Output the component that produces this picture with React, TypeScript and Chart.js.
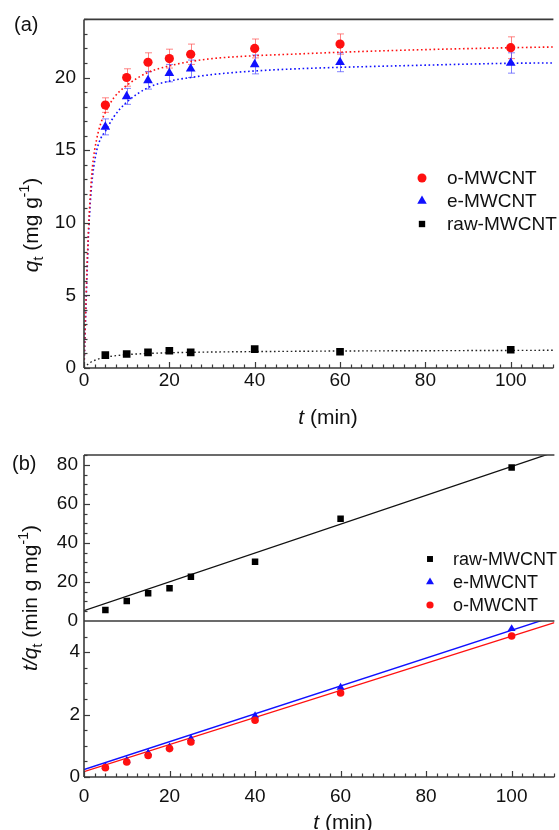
import React, { useEffect, useRef } from 'react';
import { Chart, registerables } from 'chart.js';
Chart.register(...registerables);

const FONT = '"Liberation Sans", Arial, Helvetica, sans-serif';

// ---- panel (a): adsorption kinetics ----
const timeMin = [5, 10, 15, 20, 25, 40, 60, 100];
const qO = [18.1, 20.0, 21.05, 21.3, 21.6, 22.0, 22.3, 22.05];
const qE = [16.6, 18.7, 19.8, 20.3, 20.6, 20.9, 21.05, 21.0];
const qRaw = [0.89, 0.96, 1.08, 1.19, 1.08, 1.3, 1.12, 1.26];
const errO = [0.5, 0.6, 0.65, 0.65, 0.7, 0.65, 0.7, 0.75];
const errE = [0.55, 0.55, 0.6, 0.6, 0.6, 0.65, 0.65, 0.7];

// fitted curves
const fitT = [0, 0.5, 1, 1.5, 2, 3, 4, 5, 7, 10, 15, 20, 25, 30, 40, 50, 60, 80, 100, 110];
const fitO = [0, 5.0, 9.2, 12.0, 13.9, 15.8, 16.9, 17.6, 18.6, 19.45, 20.35, 20.8, 21.1, 21.3, 21.5, 21.62, 21.74, 21.92, 22.05, 22.1];
const fitE = [0, 4.6, 8.8, 11.5, 13.2, 15.0, 15.85, 16.3, 17.3, 18.3, 19.3, 19.75, 20.0, 20.2, 20.45, 20.6, 20.7, 20.85, 20.98, 21.0];
const fitRaw = [0, 0.15, 0.28, 0.38, 0.46, 0.58, 0.67, 0.74, 0.83, 0.92, 1.0, 1.05, 1.08, 1.1, 1.13, 1.15, 1.17, 1.19, 1.21, 1.22];

// ---- panel (b): pseudo-second-order plot t/qt ----
const tqRaw = [5.6, 10.3, 14.2, 16.8, 22.7, 30.4, 52.3, 78.6];
const tqE = [0.34, 0.53, 0.77, 0.96, 1.23, 1.96, 2.87, 4.75];
const tqO = [0.3, 0.48, 0.69, 0.91, 1.12, 1.82, 2.69, 4.52];
const lineT = [0, 110];
const lineRaw = [5.3, 86.5];
const lineE = [0.24, 5.15];
const lineO = [0.17, 4.95];

const seriesLabels = ['o-MWCNT', 'e-MWCNT', 'raw-MWCNT'];

// tick labels
const xTickLabels = [0, 20, 40, 60, 80, 100];
const yTickLabelsA = [0, 5, 10, 15, 20];
const yTickLabelsTop = [0, 20, 40, 60, 80];
const yTickLabelsLow = [0, 2, 4];

const RED = '#ff1010';
const BLUE = '#1010ff';
const BLACK = '#000000';

const pts = (xs: number[], ys: number[]) => xs.map((x, i) => ({ x, y: ys[i] }));

type Seg = { t: string; it?: boolean; sub?: boolean; sup?: boolean };

function drawRich(ctx: CanvasRenderingContext2D, segs: Seg[], cx: number, cy: number, size: number, rotate: boolean) {
  ctx.save();
  ctx.translate(cx, cy);
  if (rotate) ctx.rotate(-Math.PI / 2);
  const fontOf = (s: Seg) => `${s.it ? 'italic ' : ''}${s.sub || s.sup ? Math.round(size * 0.68) : size}px ${FONT}`;
  let total = 0;
  for (const s of segs) {
    ctx.font = fontOf(s);
    total += ctx.measureText(s.t).width;
  }
  let x = -total / 2;
  ctx.textBaseline = 'alphabetic';
  ctx.textAlign = 'left';
  ctx.fillStyle = '#111';
  for (const s of segs) {
    ctx.font = fontOf(s);
    const dy = s.sub ? size * 0.28 : s.sup ? -size * 0.42 : 0;
    ctx.fillText(s.t, x, size * 0.36 + dy);
    x += ctx.measureText(s.t).width;
  }
  ctx.restore();
}

function marker(ctx: CanvasRenderingContext2D, style: string, x: number, y: number, r: number, color: string) {
  ctx.save();
  ctx.fillStyle = color;
  ctx.beginPath();
  if (style === 'circle') {
    ctx.arc(x, y, r, 0, Math.PI * 2);
  } else if (style === 'triangle') {
    ctx.moveTo(x, y - r);
    ctx.lineTo(x + r * 0.866, y + r * 0.5);
    ctx.lineTo(x - r * 0.866, y + r * 0.5);
    ctx.closePath();
  } else {
    const s = r * Math.SQRT1_2;
    ctx.rect(x - s, y - s, 2 * s, 2 * s);
  }
  ctx.fill();
  ctx.restore();
}

function line(ctx: CanvasRenderingContext2D, x1: number, y1: number, x2: number, y2: number) {
  ctx.beginPath();
  ctx.moveTo(x1, y1);
  ctx.lineTo(x2, y2);
  ctx.stroke();
}

const FRAME = '#3a3a3a';

function xTicks(ctx: CanvasRenderingContext2D, xs: any, bottom: number) {
  ctx.strokeStyle = FRAME;
  ctx.lineWidth = 1.2;
  for (let v = 0; v <= 110.001; v += 2.5) {
    const px = Math.round(xs.getPixelForValue(v)) + 0.5;
    const len = Math.abs(v % 20) < 1e-6 ? 6 : 3.5;
    line(ctx, px, bottom, px, bottom - len);
  }
}

function yTicks(ctx: CanvasRenderingContext2D, ys: any, left: number, min: number, max: number, minor: number, major: number) {
  ctx.strokeStyle = FRAME;
  ctx.lineWidth = 1.2;
  for (let v = min; v <= max + 1e-6; v += minor) {
    const py = Math.round(ys.getPixelForValue(v)) + 0.5;
    const r = v / major;
    const len = Math.abs(r - Math.round(r)) < 1e-6 ? 6 : 3.5;
    line(ctx, left, py, left + len, py);
  }
}

function legend(chart: any, items: { idx: number; style: string; color: string; r: number }[], mx: number, tx: number, y0: number, dy: number, size: number) {
  const ctx = chart.ctx;
  items.forEach((it, i) => {
    const y = y0 + i * dy;
    marker(ctx, it.style, mx, y, it.r, it.color);
    ctx.save();
    ctx.font = `${size}px ${FONT}`;
    ctx.fillStyle = '#111';
    ctx.textBaseline = 'middle';
    ctx.textAlign = 'left';
    ctx.fillText(chart.data.datasets[it.idx].label, tx, y + 1);
    ctx.restore();
  });
}

const useTicks = (values: number[]) => (scale: any) => {
  scale.ticks = values.map((v) => ({ value: v }));
};

const tickOpts = (padding: number) => ({ padding, autoSkip: false, maxRotation: 0, color: '#111', font: { size: 19, family: FONT } });

function makeA(canvas: HTMLCanvasElement) {
  const decor = {
    id: 'decorA',
    beforeDatasetsDraw(chart: any) {
      const ctx = chart.ctx;
      const xs = chart.scales.x;
      const ys = chart.scales.y;
      const ca = chart.chartArea;
      ctx.save();
      ctx.beginPath();
      ctx.rect(ca.left, ca.top, ca.right - ca.left, ca.bottom - ca.top);
      ctx.clip();
      const sets = [
        { vals: qO, err: errO, color: 'rgba(255,80,80,0.7)' },
        { vals: qE, err: errE, color: 'rgba(80,80,255,0.7)' },
      ];
      ctx.lineWidth = 1;
      for (const s of sets) {
        ctx.strokeStyle = s.color;
        timeMin.forEach((t, i) => {
          const px = Math.round(xs.getPixelForValue(t)) + 0.5;
          const y1 = ys.getPixelForValue(s.vals[i] + s.err[i]);
          const y2 = ys.getPixelForValue(s.vals[i] - s.err[i]);
          line(ctx, px, y1, px, y2);
          line(ctx, px - 3.5, y1, px + 3.5, y1);
          line(ctx, px - 3.5, y2, px + 3.5, y2);
        });
      }
      ctx.restore();
    },
    afterDraw(chart: any) {
      const ctx = chart.ctx;
      const ca = chart.chartArea;
      const xs = chart.scales.x;
      const ys = chart.scales.y;
      ctx.save();
      ctx.strokeStyle = FRAME;
      ctx.lineWidth = 1.6;
      line(ctx, ca.left, ca.top, ca.right, ca.top);
      line(ctx, ca.left, ca.top, ca.left, ca.bottom);
      line(ctx, ca.left, ca.bottom, ca.right, ca.bottom);
      xTicks(ctx, xs, ca.bottom);
      yTicks(ctx, ys, ca.left, 0, 24, 1, 5);
      ctx.restore();
      drawRich(ctx, [{ t: 'q', it: true }, { t: 't', sub: true }, { t: ' (mg g' }, { t: '-1', sup: true }, { t: ')' }], 30, 225, 21, true);
      drawRich(ctx, [{ t: 't', it: true }, { t: ' (min)' }], 328, 416, 21, false);
      ctx.save();
      ctx.font = `20px ${FONT}`;
      ctx.fillStyle = '#111';
      ctx.textBaseline = 'middle';
      ctx.fillText('(a)', 14, 25);
      ctx.restore();
      legend(chart, [
        { idx: 0, style: 'circle', color: RED, r: 4.5 },
        { idx: 1, style: 'triangle', color: BLUE, r: 5.5 },
        { idx: 2, style: 'rect', color: BLACK, r: 4.5 },
      ], 422, 447, 178, 23, 19);
    },
  };

  return new Chart(canvas, {
    type: 'scatter',
    data: {
      datasets: [
        { label: seriesLabels[0], data: pts(timeMin, qO), pointStyle: 'circle', pointRadius: 4.6, backgroundColor: RED, borderWidth: 0, showLine: false, order: 1 },
        { label: seriesLabels[1], data: pts(timeMin, qE), pointStyle: 'triangle', pointRadius: 5.6, backgroundColor: BLUE, borderWidth: 0, showLine: false, order: 1 },
        { label: seriesLabels[2], data: pts(timeMin, qRaw), pointStyle: 'rect', pointRadius: 5.4, backgroundColor: BLACK, borderWidth: 0, showLine: false, order: 1 },
        { label: 'fit o', data: pts(fitT, fitO), showLine: true, pointRadius: 0, borderColor: RED, borderWidth: 1.6, borderDash: [1.6, 2.6], cubicInterpolationMode: 'monotone', order: 2 },
        { label: 'fit e', data: pts(fitT, fitE), showLine: true, pointRadius: 0, borderColor: BLUE, borderWidth: 1.6, borderDash: [1.6, 2.6], cubicInterpolationMode: 'monotone', order: 2 },
        { label: 'fit raw', data: pts(fitT, fitRaw), showLine: true, pointRadius: 0, borderColor: '#222', borderWidth: 1.4, borderDash: [1.6, 2.6], cubicInterpolationMode: 'monotone', order: 2 },
      ] as any,
    },
    options: {
      animation: false,
      responsive: false,
      events: [],
      layout: { padding: { top: 18, left: 0, right: 0, bottom: 0 } },
      plugins: { legend: { display: false }, tooltip: { enabled: false } },
      scales: {
        x: {
          type: 'linear', min: 0, max: 110,
          grid: { display: false, drawTicks: false }, border: { display: false },
          ticks: tickOpts(1),
          afterBuildTicks: useTicks(xTickLabels),
          afterFit: (s: any) => { s.height = 62; },
        },
        y: {
          type: 'linear', min: 0, max: 24,
          grid: { display: false, drawTicks: false }, border: { display: false },
          ticks: tickOpts(8),
          afterBuildTicks: useTicks(yTickLabelsA),
          afterFit: (s: any) => { s.width = 84; },
        },
      },
    } as any,
    plugins: [decor],
  });
}

function makeB(canvas: HTMLCanvasElement) {
  const decor = {
    id: 'decorB',
    afterDraw(chart: any) {
      const ctx = chart.ctx;
      const ca = chart.chartArea;
      const xs = chart.scales.x;
      const yTop = chart.scales.yTop;
      const yLow = chart.scales.yLow;
      ctx.save();
      ctx.strokeStyle = FRAME;
      ctx.lineWidth = 1.6;
      line(ctx, ca.left, ca.top, ca.right, ca.top);
      line(ctx, ca.left, ca.top, ca.left, ca.bottom);
      line(ctx, ca.left, ca.bottom, ca.right, ca.bottom);
      const sep = yTop.getPixelForValue(0);
      line(ctx, ca.left, sep, ca.right, sep);
      xTicks(ctx, xs, ca.bottom);
      yTicks(ctx, yTop, ca.left, 5, 85, 5, 20);
      yTicks(ctx, yLow, ca.left, 0, 4.5, 0.5, 2);
      ctx.restore();
      drawRich(ctx, [{ t: 't/q', it: true }, { t: 't', sub: true }, { t: ' (min g mg' }, { t: '-1', sup: true }, { t: ')' }], 29, 168, 21, true);
      drawRich(ctx, [{ t: 't', it: true }, { t: ' (min)' }], 343, 391, 21, false);
      ctx.save();
      ctx.font = `20px ${FONT}`;
      ctx.fillStyle = '#111';
      ctx.textBaseline = 'middle';
      ctx.fillText('(b)', 12, 34);
      ctx.restore();
      legend(chart, [
        { idx: 0, style: 'rect', color: BLACK, r: 4.2 },
        { idx: 1, style: 'triangle', color: BLUE, r: 4.6 },
        { idx: 2, style: 'circle', color: RED, r: 3.6 },
      ], 430, 453, 129, 23, 18);
    },
  };

  return new Chart(canvas, {
    type: 'scatter',
    data: {
      datasets: [
        { label: seriesLabels[2], data: pts(timeMin, tqRaw), yAxisID: 'yTop', pointStyle: 'rect', pointRadius: 4.6, backgroundColor: BLACK, borderWidth: 0, showLine: false, order: 1 },
        { label: seriesLabels[1], data: pts(timeMin, tqE), yAxisID: 'yLow', pointStyle: 'triangle', pointRadius: 4.6, backgroundColor: BLUE, borderWidth: 0, showLine: false, order: 1 },
        { label: seriesLabels[0], data: pts(timeMin, tqO), yAxisID: 'yLow', pointStyle: 'circle', pointRadius: 3.8, backgroundColor: RED, borderWidth: 0, showLine: false, order: 0 },
        { label: 'fit raw', data: pts(lineT, lineRaw), yAxisID: 'yTop', showLine: true, pointRadius: 0, borderColor: '#111', borderWidth: 1.3, order: 2 },
        { label: 'fit e', data: pts(lineT, lineE), yAxisID: 'yLow', showLine: true, pointRadius: 0, borderColor: BLUE, borderWidth: 1.4, order: 2 },
        { label: 'fit o', data: pts(lineT, lineO), yAxisID: 'yLow', showLine: true, pointRadius: 0, borderColor: RED, borderWidth: 1.4, order: 2 },
      ] as any,
    },
    options: {
      animation: false,
      responsive: false,
      events: [],
      layout: { padding: { top: 25, left: 0, right: 0, bottom: 0 } },
      plugins: { legend: { display: false }, tooltip: { enabled: false } },
      scales: {
        x: {
          type: 'linear', min: 0, max: 110,
          grid: { display: false, drawTicks: false }, border: { display: false },
          ticks: tickOpts(8),
          afterBuildTicks: useTicks(xTickLabels),
          afterFit: (s: any) => { s.height = 53; },
        },
        yLow: {
          type: 'linear', position: 'left', stack: 'b', stackWeight: 156, min: 0, max: 5,
          grid: { display: false, drawTicks: false }, border: { display: false },
          ticks: tickOpts(4),
          afterBuildTicks: useTicks(yTickLabelsLow),
          afterFit: (s: any) => { s.width = 84; },
        },
        yTop: {
          type: 'linear', position: 'left', stack: 'b', stackWeight: 166, min: 0, max: 85,
          grid: { display: false, drawTicks: false }, border: { display: false },
          ticks: tickOpts(6),
          afterBuildTicks: useTicks(yTickLabelsTop),
          afterFit: (s: any) => { s.width = 84; },
        },
      },
    } as any,
    plugins: [decor],
  });
}

export default function App() {
  const refA = useRef<HTMLCanvasElement>(null);
  const refB = useRef<HTMLCanvasElement>(null);
  useEffect(() => {
    Chart.defaults.font.family = FONT;
    const a = makeA(refA.current!);
    const b = makeB(refB.current!);
    return () => {
      a.destroy();
      b.destroy();
    };
  }, []);
  return (
    <div style={{ position: 'absolute', left: 0, top: 0, width: 559, height: 830, background: '#fff', overflow: 'hidden' }}>
      <canvas ref={refA} width={559} height={430} style={{ position: 'absolute', left: 0, top: 0, display: 'block' }} />
      <canvas ref={refB} width={559} height={400} style={{ position: 'absolute', left: 0, top: 430, display: 'block' }} />
    </div>
  );
}
